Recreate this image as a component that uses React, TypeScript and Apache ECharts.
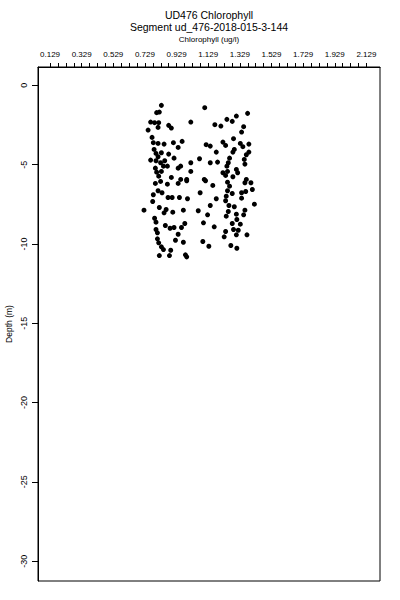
import React, { useEffect, useRef } from "react";
import * as echarts from "echarts";

const titleLine1 = "UD476 Chlorophyll";
const titleLine2 = "Segment ud_476-2018-015-3-144";
const xAxisTitle = "Chlorophyll (ug/l)";
const yAxisTitle = "Depth (m)";

const xLabelValues = [0.129, 0.329, 0.529, 0.729, 0.929, 1.129, 1.329, 1.529, 1.729, 1.929, 2.129];
const xTickValues = [
  0.129, 0.179, 0.229, 0.279, 0.329, 0.379, 0.429, 0.479, 0.529, 0.579, 0.629, 0.679, 0.729, 0.779,
  0.829, 0.879, 0.929, 0.979, 1.029, 1.079, 1.129, 1.179, 1.229, 1.279, 1.329, 1.379, 1.429, 1.479,
  1.529, 1.579, 1.629, 1.679, 1.729, 1.779, 1.829, 1.879, 1.929, 1.979, 2.029, 2.079, 2.129,
];
const yTickValues = [0, -5, -10, -15, -20, -25, -30];

const chlorophyll = [
  0.833, 0.82, 0.803, 1.107, 0.765, 0.79, 0.816, 0.812, 0.749, 0.879, 0.896, 1.019, 1.171, 1.209,
  1.247, 1.281, 1.307, 1.378, 1.353, 1.34, 0.774, 0.782, 0.812, 0.85, 0.909, 0.964, 0.939, 1.116,
  1.142, 1.222, 1.239, 1.289, 1.332, 1.348, 1.386, 1.294, 0.787, 0.799, 0.833, 0.879, 0.812, 0.913,
  0.765, 0.799, 0.828, 0.854, 1.019, 1.074, 1.142, 1.188, 1.18, 1.285, 1.264, 1.256, 1.386, 1.357,
  1.37, 0.795, 0.846, 0.871, 0.939, 0.955, 1.019, 0.803, 0.833, 0.816, 0.896, 0.955, 0.993, 1.104,
  1.247, 1.251, 1.307, 1.361, 1.315, 1.222, 1.239, 1.285, 1.37,
  0.795, 0.828, 0.871, 0.939, 0.993, 1.112, 1.158, 1.251, 1.264, 1.361, 1.399, 1.408, 1.366, 0.812,
  0.837, 0.782, 0.875, 0.901, 0.947, 0.998, 1.078, 1.18, 1.251, 1.243, 1.281, 1.34, 1.34, 1.421,
  0.778, 0.723, 0.82, 0.863, 0.85, 0.905, 0.972, 1.066, 1.125, 1.142, 1.239, 1.26, 1.294, 1.256,
  1.243, 1.361, 1.353, 1.307, 0.79, 0.799, 0.858, 0.888, 0.913, 0.96, 0.981, 0.799, 0.808, 0.939,
  1.167, 1.099, 1.281, 1.31, 1.332, 1.289, 1.319, 1.239, 1.23, 1.307, 1.374, 0.808, 0.816, 0.922,
  0.972, 0.833, 0.846, 0.892, 1.095, 1.133, 1.272, 1.31, 0.82, 0.884, 0.985, 0.993,
];

const depth = [
  -1.263, -1.686, -1.723, -1.408, -2.317, -2.355, -2.355, -2.652, -2.822, -2.525, -2.696, -2.317,
  -2.481, -2.569, -2.146, -2.273, -1.938, -1.768, -2.607, -2.948, -3.283, -3.617, -3.662, -3.706,
  -3.617, -3.535, -3.914, -3.744, -3.832, -3.58, -3.788, -3.365, -3.662, -3.87, -3.706, -4.04,
  -4.04, -4.293, -4.249, -4.337, -4.501, -4.59, -4.716, -4.754, -4.88, -4.754, -4.88, -4.627,
  -4.88, -4.842, -4.211, -4.211, -4.59, -4.88, -4.211, -4.672, -4.375, -5.221, -5.095, -5.095,
  -5.221, -5.095, -5.429, -5.473, -5.429, -5.726, -5.808, -5.934, -5.934, -5.934, -5.095, -5.429,
  -5.303, -4.968, -5.511, -5.511, -5.682, -5.764, -5.934,
  -6.187, -6.061, -6.231, -6.187, -6.016, -6.016, -6.313, -6.105, -6.357, -6.143, -6.143, -6.566,
  -6.692, -6.648, -6.774, -6.9, -7.071, -7.071, -7.071, -7.153, -6.774, -7.153, -6.648, -6.989,
  -6.818, -6.774, -7.115, -7.494, -7.323, -7.872, -7.702, -7.828, -8.037, -7.999, -7.872, -7.91,
  -8.163, -7.576, -7.279, -7.576, -7.658, -7.955, -8.251, -7.872, -8.163, -8.125, -8.378, -8.63,
  -8.838, -9.009, -8.965, -8.965, -8.712, -9.091, -9.299, -9.388, -8.92, -8.668, -8.712, -8.46,
  -8.756, -9.091, -9.135, -9.217, -9.552, -9.426, -9.426, -9.678, -9.93, -9.766, -9.893, -10.183,
  -10.354, -10.398, -9.848, -10.145, -10.101, -10.271, -10.732, -10.732, -10.688, -10.814,
];

const FONT = "'Liberation Sans', Arial, Helvetica, sans-serif";

export default function App() {
  const ref = useRef<HTMLDivElement>(null);

  useEffect(() => {
    if (!ref.current) return;
    const chart = echarts.init(ref.current, undefined, { renderer: "svg" });
    const points = chlorophyll.map((x, i) => [x, depth[i]]);
    const gridLeft = 38;
    const gridRight = 20;
    const gridTop = 67;
    const gridBottom = 19;
    const centerX = gridLeft + (400 - gridLeft - gridRight) / 2;

    chart.setOption({
      animation: false,
      backgroundColor: "#ffffff",
      textStyle: { fontFamily: FONT, color: "#000" },
      grid: {
        left: gridLeft,
        right: gridRight,
        top: gridTop,
        bottom: gridBottom,
        containLabel: false,
        outerBoundsMode: "none",
        show: true,
        borderColor: "#000",
        borderWidth: 1,
        backgroundColor: "transparent",
      },
      graphic: [
        {
          type: "text",
          x: centerX,
          y: 9,
          style: {
            text: titleLine1,
            fontFamily: FONT,
            fontSize: 10.5,
            fill: "#000",
            align: "center",
          },
        },
        {
          type: "text",
          x: centerX,
          y: 21,
          style: {
            text: titleLine2,
            fontFamily: FONT,
            fontSize: 10.5,
            fill: "#000",
            align: "center",
          },
        },
        {
          type: "text",
          x: centerX,
          y: 35,
          style: {
            text: xAxisTitle,
            fontFamily: FONT,
            fontSize: 8,
            fill: "#000",
            align: "center",
          },
        },
      ],
      xAxis: {
        type: "value",
        position: "top",
        min: 0.053,
        max: 2.215,
        splitLine: { show: false },
        axisLine: { show: true, onZero: false, lineStyle: { color: "#000", width: 1 } },
        axisTick: {
          show: true,
          inside: false,
          length: 4,
          lineStyle: { color: "#000" },
          customValues: xTickValues,
        },
        axisLabel: {
          show: true,
          customValues: xLabelValues,
          margin: 9,
          fontSize: 8,
          fontFamily: FONT,
          color: "#000",
          formatter: (v: number) => v.toFixed(3),
        },
      },
      yAxis: {
        type: "value",
        min: -31.25,
        max: 1.155,
        name: yAxisTitle,
        nameLocation: "middle",
        nameGap: 25,
        nameMoveOverlap: false,
        nameRotate: 90,
        nameTextStyle: { fontSize: 8.5, fontFamily: FONT, color: "#000" },
        splitLine: { show: false },
        axisLine: { show: true, onZero: false, lineStyle: { color: "#000", width: 1 } },
        axisTick: {
          show: true,
          inside: false,
          length: 6,
          lineStyle: { color: "#000" },
          customValues: yTickValues,
        },
        axisLabel: {
          show: true,
          customValues: yTickValues,
          rotate: 90,
          align: "center",
          verticalAlign: "bottom",
          margin: 10,
          fontSize: 9,
          fontFamily: FONT,
          color: "#000",
          formatter: (v: number) => String(Math.round(v)),
        },
      },
      series: [
        {
          type: "scatter",
          data: points,
          symbol: "circle",
          symbolSize: 5,
          itemStyle: { color: "#000", opacity: 1 },
          silent: true,
        },
      ],
    });

    return () => chart.dispose();
  }, []);

  return (
    <div
      ref={ref}
      style={{ position: "fixed", left: 0, top: 0, width: 400, height: 600, background: "#fff" }}
    />
  );
}
